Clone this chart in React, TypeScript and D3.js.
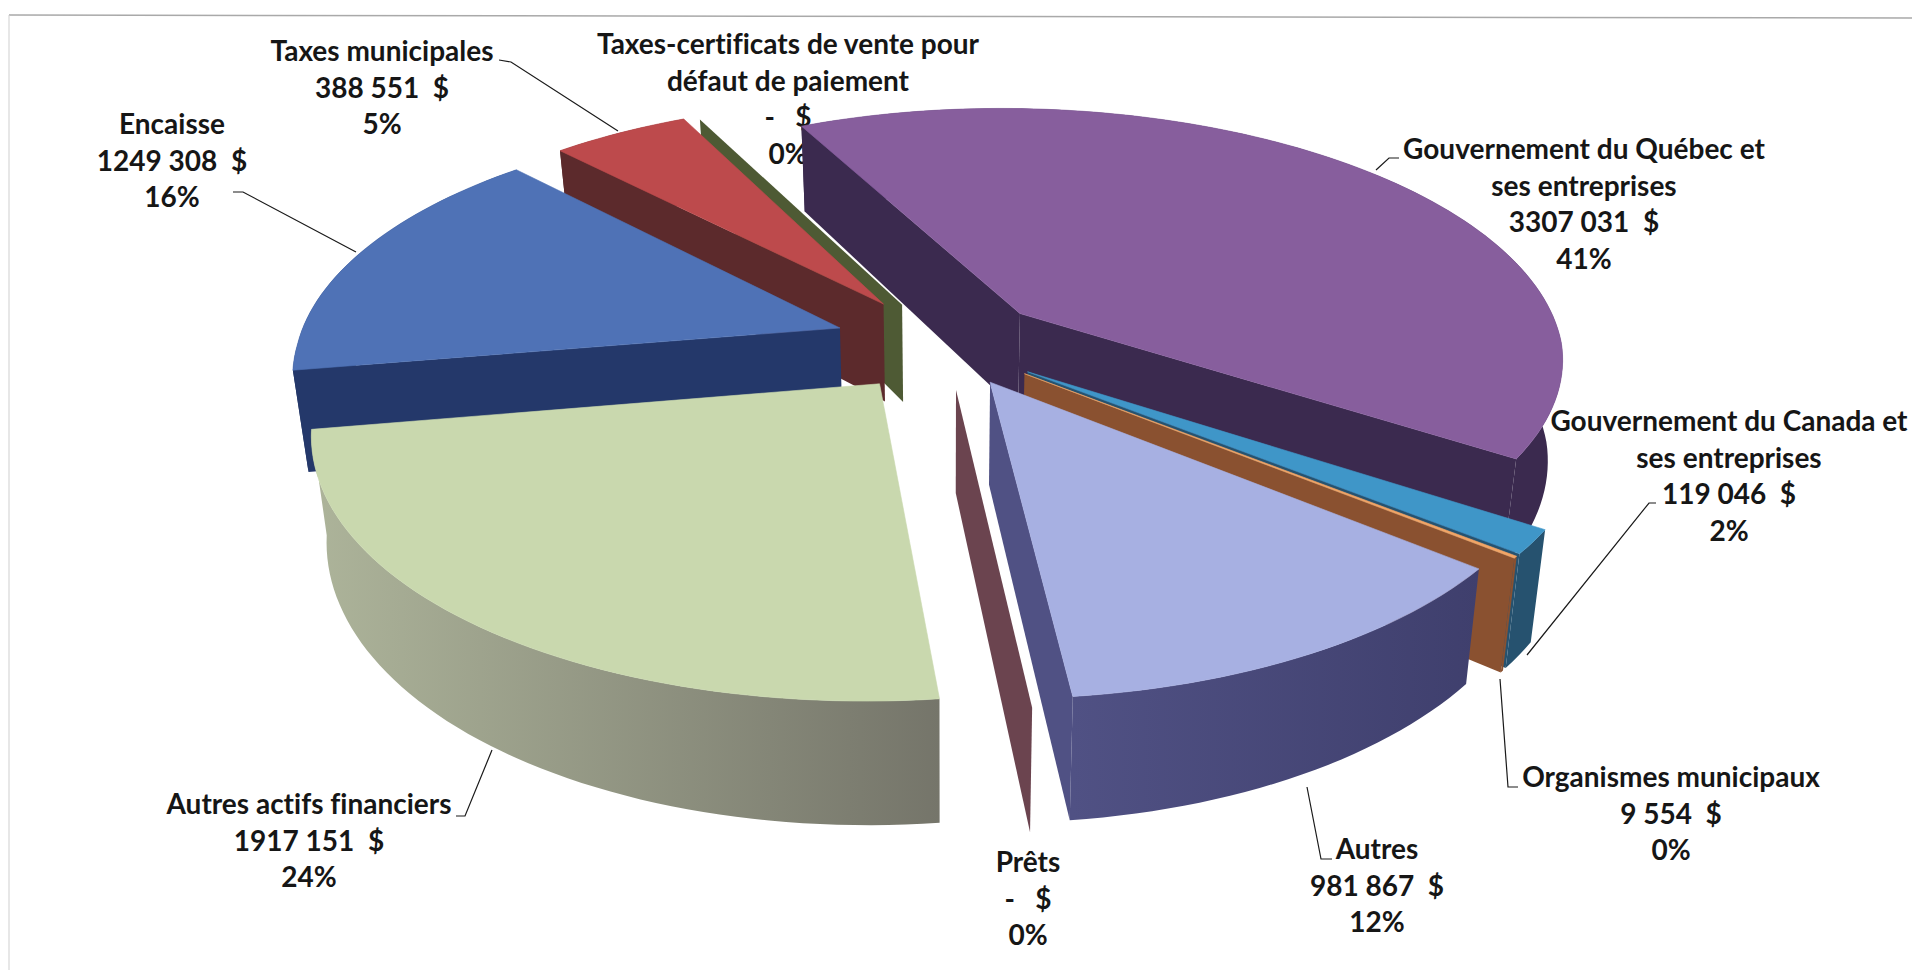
import React from "react";
import * as d3 from "d3";

// values, in the order of the original pie
const categories = [
  "Encaisse",
  "Taxes municipales",
  "Taxes-certificats de vente pour défaut de paiement",
  "Gouvernement du Québec et ses entreprises",
  "Gouvernement du Canada et ses entreprises",
  "Organismes municipaux",
  "Autres",
  "Prêts",
  "Autres actifs financiers",
];
const amounts = [1249308, 388551, 0, 3307031, 119046, 9554, 981867, 0, 1917151];
const amountLabels = ["1249 308  $", "388 551  $", "-   $", "3307 031  $", "119 046  $", "9 554  $", "981 867  $", "-   $", "1917 151  $"];
const percentLabels = ["16%", "5%", "0%", "41%", "2%", "0%", "12%", "0%", "24%"];
const explode = [0.205, 0.2, 0.18, 0.19, 0.185, 0.185, 0.17, 0.18, 0.195];

const topColors = ["#4f72b6", "#bd4a4c", "#98a860", "#875e9d", "#3f96c8", "#f2a566", "#a7b0e2", "#8a5a68", "#c9d8ae"];
const wallColors = [
  ["#1f335f", "#24386a"],
  ["#5c2a2c", "#5c2a2c"],
  ["#4e5a34", "#4e5a34"],
  ["#3b2a4f", "#3b2a4f"],
  ["#26526f", "#26526f"],
  ["#8a5130", "#8a5130"],
  ["#505184", "#3f3f6d"],
  ["#6b444f", "#6b444f"],
  ["#adb49a", "#75756a"],
];

const labelLines = [
  ["Encaisse"],
  ["Taxes municipales"],
  ["Taxes-certificats de vente pour", "défaut de paiement"],
  ["Gouvernement du Québec et", "ses entreprises"],
  ["Gouvernement du Canada et", "ses entreprises"],
  ["Organismes municipaux"],
  ["Autres"],
  ["Prêts"],
  ["Autres actifs financiers"],
];
const labelAnchors = [
  [172, 125],
  [382, 52],
  [788, 45],
  [1584, 150],
  [1729, 422],
  [1671, 778],
  [1377, 850],
  [1028, 863],
  [309, 805],
];
const leaders = [
  [[233, 192], [243, 192], [356, 252]],
  [[499, 60], [511, 62], [618, 131]],
  [],
  [[1399, 158], [1389, 158], [1376, 170]],
  [[1656, 503], [1649, 503], [1527, 655]],
  [[1518, 787], [1508, 787], [1500, 679]],
  [[1332, 859], [1321, 859], [1307, 787]],
  [],
  [[456, 816], [465, 816], [492, 750]],
];

const WIDTH = 1912;
const HEIGHT = 970;
const FONT = "Lato, 'Noto Sans', sans-serif";
const rad = Math.PI / 180;
const firstAngle = 260.3 * rad;
const tilt = 0.168; // perspective strength towards the viewer
const drop = 100; // thickness of the pie at the centre
const converge = 0.024;
const backShear = 0.04; // the far half leans left in the reference

const xScale = d3.scaleLinear().domain([-1, 1]).range([945 - 543, 945 + 543]);
const zScale = d3.scaleLinear().domain([-1, 1]).range([344 - 249, 344 + 249]);

type P = [number, number];

const project = (x: number, z: number, h: number): P => {
  const s = 1 / (1 - tilt * z);
  const px = xScale(x * s);
  const cx = xScale(0);
  const y = zScale(z * s);
  return [cx + (px - cx) * (1 - h * converge) + Math.min(0, y - zScale(0)) * backShear, y + h * drop * s];
};

const line = d3.line<P>();

const slices = d3
  .pie<number>()
  .sort(null)
  .startAngle(firstAngle)
  .endAngle(firstAngle + 2 * Math.PI)(amounts)
  .map((arc, i) => {
    const mid = (arc.startAngle + arc.endAngle) / 2;
    const ox = explode[i] * Math.sin(mid);
    const oz = -explode[i] * Math.cos(mid);
    const n = Math.max(2, Math.ceil((arc.endAngle - arc.startAngle) / (1.5 * rad)));
    const angles = d3.range(n + 1).map((k) => arc.startAngle + ((arc.endAngle - arc.startAngle) * k) / n);
    const rim = angles.map((a) => [ox + Math.sin(a), oz - Math.cos(a)]);
    const topRim = rim.map(([x, z]) => project(x, z, 0));
    const lowRim = rim.map(([x, z]) => project(x, z, 1));
    const tipTop = project(ox, oz, 0);
    const tipLow = project(ox, oz, 1);
    return { i, depth: -Math.cos(mid), topRim, lowRim, tipTop, tipLow };
  })
  .sort((a, b) => a.depth - b.depth);

export default function App() {
  return (
    <svg
      width={WIDTH}
      height={HEIGHT}
      viewBox={`0 0 ${WIDTH} ${HEIGHT}`}
      style={{ position: "fixed", left: 0, top: 0, background: "#fff" }}
    >
      <defs>
        {slices.map((s) => {
          const xs = s.topRim.map((p) => p[0]);
          return (
            <linearGradient
              key={s.i}
              id={`wall-${s.i}`}
              gradientUnits="userSpaceOnUse"
              x1={d3.min(xs)}
              x2={Math.max(d3.max(xs)!, d3.min(xs)! + 1)}
              y1={0}
              y2={0}
            >
              <stop offset="0%" stopColor={wallColors[s.i][0]} />
              <stop offset="100%" stopColor={wallColors[s.i][1]} />
            </linearGradient>
          );
        })}
      </defs>

      {/* scan edges of the page */}
      <path d="M9 15 L1912 18" stroke="#a9a9a9" strokeWidth={1.5} fill="none" />
      <path d="M9 15 L9 970" stroke="#cfcfcf" strokeWidth={1} fill="none" />

      {/* labels sit behind the pie: the reference cuts some of them */}
      <g
        fontFamily={FONT}
        fontWeight={700}
        fontSize={28}
        fill="#161616"
        textAnchor="middle"
        style={{ fontVariantLigatures: "none" }}
      >
        {categories.map((_, i) => {
          const rows = [...labelLines[i], amountLabels[i], percentLabels[i]];
          return rows.map((row, k) => (
            <text key={`${i}-${k}`} x={labelAnchors[i][0]} y={labelAnchors[i][1] + 9 + k * 36.7} style={{ whiteSpace: "pre" }}>
              {row}
            </text>
          ));
        })}
      </g>

      {slices.map((s) => {
        const last = s.topRim.length - 1;
        const fill = `url(#wall-${s.i})`;
        const startVisible = s.topRim[0][0] < s.tipTop[0];
        const endVisible = s.tipTop[0] < s.topRim[last][0];
        const outer = [...s.topRim, ...[...s.lowRim].reverse()] as P[];
        const flat = s.topRim[0][0] === s.topRim[last][0];
        return (
          <g key={s.i}>
            <path d={`${line(outer)}Z`} fill={fill} />
            {startVisible && (
              <path d={`${line([s.tipTop, s.topRim[0], s.lowRim[0], s.tipLow])}Z`} fill={wallColors[s.i][1]} />
            )}
            {endVisible && (
              <path d={`${line([s.tipTop, s.topRim[last], s.lowRim[last], s.tipLow])}Z`} fill={wallColors[s.i][0]} />
            )}
            {!flat && (
              <path
                d={`${line([s.tipTop, ...s.topRim])}Z`}
                fill={topColors[s.i]}
                stroke={topColors[s.i]}
                strokeWidth={0.6}
              />
            )}
          </g>
        );
      })}

      <g fill="none" stroke="#1a1a1a" strokeWidth={1.2}>
        {leaders.map((pts, i) => pts.length > 0 && <path key={i} d={line(pts as P[])!} />)}
      </g>
    </svg>
  );
}
